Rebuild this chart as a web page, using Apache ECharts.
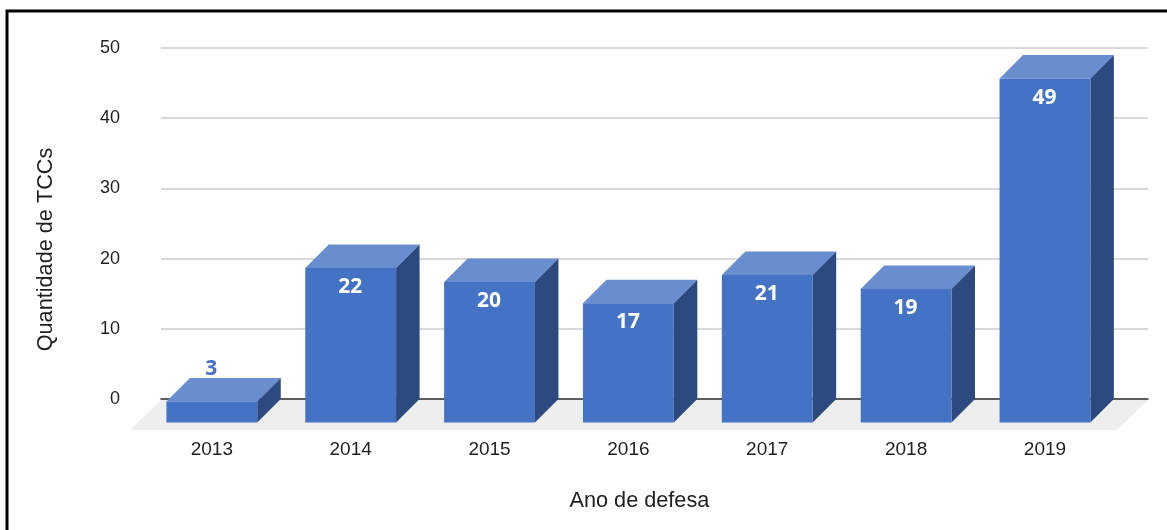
<!DOCTYPE html>
<html>
<head>
<meta charset="utf-8">
<style>html,body{margin:0;padding:0;background:#fff}#c{width:1167px;height:530px}</style>
<script src="https://cdn.jsdelivr.net/npm/echarts@6/dist/echarts.min.js"></script>
</head>
<body>
<div id="c"></div>
<script>
const categories = ['2013','2014','2015','2016','2017','2018','2019'];
const tccCounts = [3,22,20,17,21,19,49];
const yTicks = {min:0,max:50,interval:10};
const xTitle = 'Ano de defesa';
const yTitle = 'Quantidade de TCCs';

const FONT = '"Liberation Sans", Arial, sans-serif';
const DEPTH = 23.5, FLOOR_DEPTH = 31, BAR_RATIO = 0.654;
const FRONT='#4472C4', TOP='#698ED0', SIDE='#2C4A7F', FLOOR='#EEEEEE';

function renderBar(params, api){
  const i = api.value(0), v = api.value(1);
  const top = api.coord([i, v]), base = api.coord([i, 0]);
  const w = api.size([1,0])[0]*BAR_RATIO;
  const xl = top[0]-w/2, xr = top[0]+w/2, d = DEPTH;
  const yf = top[1]+d, yb = base[1]+d;
  const small = (yb-yf) < 40;
  return {type:'group',children:[
    {type:'polygon',shape:{points:[[xl,yf],[xr,yf],[xr+d,top[1]],[xl+d,top[1]]]},style:{fill:TOP}},
    {type:'polygon',shape:{points:[[xr,yf],[xr+d,top[1]],[xr+d,yb-d],[xr,yb]]},style:{fill:SIDE}},
    {type:'rect',shape:{x:xl,y:yf,width:w,height:yb-yf},style:{fill:FRONT}},
    {type:'text',style:{x:top[0]-0.5,y:small?top[1]-9:yf+19,text:String(v),
      fill:small?FRONT:'#fff',font:'bold 21px "Noto Sans", sans-serif',align:'center',verticalAlign:'middle'}}
  ]};
}
function renderFloor(params, api){
  const cs = params.coordSys, y0 = api.coord([0,0])[1];
  return {type:'polygon',shape:{points:[[cs.x,y0+1],[cs.x+cs.width,y0+1],
    [cs.x+cs.width-FLOOR_DEPTH,y0+FLOOR_DEPTH],[cs.x-FLOOR_DEPTH,y0+FLOOR_DEPTH]]},style:{fill:FLOOR}};
}

const chart = echarts.init(document.getElementById('c'),null,{renderer:'canvas'});
chart.setOption({
  animation:false,
  backgroundColor:'#fff',
  grid:[
    {left:161,top:48,width:987,height:351},
    {left:142.4,top:48,width:972,height:351}
  ],
  xAxis:[
    {gridIndex:0,type:'value',min:0,max:1,z:3,splitLine:{show:false},axisTick:{show:false},axisLabel:{show:false},
      axisLine:{show:true,lineStyle:{color:'#333333',width:1.5}}},
    {gridIndex:1,type:'category',data:categories,axisLine:{show:false},axisTick:{show:false},
      axisLabel:{margin:41,fontFamily:FONT,fontSize:19,color:'#1f1f1f'},
      name:xTitle,nameLocation:'middle',nameGap:91,
      nameTextStyle:{fontFamily:FONT,fontSize:21.7,color:'#1f1f1f',padding:[0,0,0,22]}}
  ],
  yAxis:[
    {gridIndex:0,type:'value',min:yTicks.min,max:yTicks.max,interval:yTicks.interval,
      axisLine:{show:false},axisTick:{show:false},
      splitLine:{lineStyle:{color:'#CCCCCC',width:1.5}},
      axisLabel:{margin:41,fontFamily:FONT,fontSize:18,color:'#1f1f1f'},
      name:yTitle,nameLocation:'middle',nameGap:104,
      nameTextStyle:{fontFamily:FONT,fontSize:21.7,color:'#1f1f1f',padding:[0,52,0,0]}},
    {gridIndex:1,type:'value',min:yTicks.min,max:yTicks.max,interval:yTicks.interval,show:false,splitLine:{show:false}}
  ],
  series:[
    {type:'custom',xAxisIndex:0,yAxisIndex:0,z:1,silent:true,clip:false,renderItem:renderFloor,data:[[0,0]]},
    {type:'custom',xAxisIndex:1,yAxisIndex:1,z:5,clip:false,renderItem:renderBar,
      encode:{x:0,y:1},data:tccCounts.map((v,i)=>[i,v])}
  ],
  graphic:[{type:'polyline',z:100,shape:{points:[[7,530],[7,11],[1167,11]]},
    style:{stroke:'#000',lineWidth:3,fill:null}}]
});
</script>
</body>
</html>
